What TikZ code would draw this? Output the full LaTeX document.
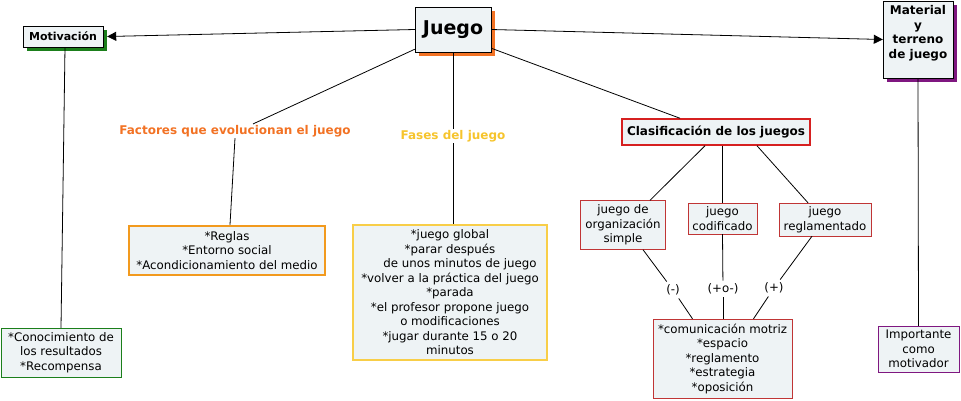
\documentclass[tikz,border=0pt]{standalone}
\usepackage{fontspec}
\setmainfont{DejaVu Sans}
\usetikzlibrary{shadows,arrows.meta}
\definecolor{fondocaja}{HTML}{EEF3F5}
\definecolor{verde}{HTML}{1B7F1B}
\definecolor{naranja}{HTML}{F27224}
\definecolor{naranjaclaro}{HTML}{F29A1E}
\definecolor{amarillo}{HTML}{F6C42C}
\definecolor{amarilloclaro}{HTML}{F8CE48}
\definecolor{morado}{HTML}{7F1780}
\definecolor{rojo}{HTML}{D62020}
\definecolor{rojooscuro}{HTML}{C03535}
\begin{document}
\begin{tikzpicture}[x=1pt, y=-1pt,
    every node/.style={font=\fontsize{11.8}{14.5}\selectfont, align=center, inner sep=1pt},
    caja/.style={draw, fill=fondocaja, inner sep=2pt},
    sombra/.style={drop shadow={shadow xshift=4pt, shadow yshift=-4pt, fill=#1, opacity=1}},
    titulo/.style={font=\bfseries\fontsize{12}{14.5}\selectfont},
    enlace/.style={black, line width=0.8pt},
    flecha/.style={black, line width=0.8pt, -{Triangle[length=9pt, width=9pt]}}
  ]
  \useasboundingbox (0,0) rectangle (961,400);

  % conceptos principales
  \node[caja, sombra=naranja, minimum width=76, minimum height=45,
        font=\bfseries\fontsize{19}{23}\selectfont] (juego) at (453,29.5) {Juego};
  \node[caja, sombra=verde, minimum width=80, minimum height=21,
        font=\bfseries\fontsize{11}{14.5}\selectfont] (motiv) at (63,36.5) {Motivación};
  \node[caja, sombra=morado, titulo, minimum width=70, minimum height=77, text depth=15pt] (material) at (918,39.5)
       {Material\\y\\terreno\\de juego};

  % ramas
  \node[titulo, text=naranja] (factores) at (235,131) {Factores que evolucionan el juego};
  \node[titulo, text=amarillo] (fases) at (453,136) {Fases del juego};
  \node[caja, draw=rojo, line width=1.5pt, titulo, minimum width=188, minimum height=26] (clasif) at (716,132)
       {Clasificación de los juegos};

  % cajas de contenido
  \node[caja, draw=naranjaclaro, line width=2.5pt, minimum width=196, minimum height=49] (reglas) at (227,250.5)
       {*Reglas\\*Entorno social\\*Acondicionamiento del medio};
  \node[caja, draw=amarilloclaro, line width=2pt, minimum width=194, minimum height=135] (fasesbox) at (450,292.5)
       {*juego global\\*parar después\\\hspace*{20pt}de unos minutos de juego\\*volver a la práctica del juego\\*parada\\*el profesor propone juego\\o modificaciones\\*jugar durante 15 o 20\\minutos};
  \node[caja, draw=verde, minimum width=120, minimum height=49] (conoc) at (61,352.5)
       {*Conocimiento de\\los resultados\\*Recompensa};
  \node[caja, draw=morado, minimum width=81, minimum height=46] (importante) at (918.5,349)
       {Importante\\como\\motivador};

  % tipos de juego
  \node[caja, draw=rojooscuro, minimum width=85, minimum height=49] (organiz) at (623,225)
       {juego de\\organización\\simple};
  \node[caja, draw=rojooscuro, minimum width=69, minimum height=31] (codif) at (722.5,218.5)
       {juego\\codificado};
  \node[caja, draw=rojooscuro, minimum width=92, minimum height=33] (reglam) at (825,219.5)
       {juego\\reglamentado};
  \node[caja, draw=rojooscuro, minimum width=139, minimum height=79] (comunic) at (722.5,358.5)
       {*comunicación motriz\\*espacio\\*reglamento\\*estrategia\\*oposición};

  % etiquetas de enlace
  \node[inner sep=3pt] (menos) at (673,290) {(-)};
  \node[inner sep=3pt] (masmenos) at (723,289) {(+o-)};
  \node[inner sep=3pt] (mas) at (774,288) {(+)};

  % conexiones
  \draw[flecha] (juego.west) -- ([xshift=4pt]motiv.east);
  \draw[flecha] (juego.east) -- (material.west);
  \draw[enlace] ([yshift=3pt]juego.south west) -- ([xshift=18pt]factores.north);
  \draw[enlace] (juego.south) -- (fases.north);
  \draw[enlace] ([yshift=4pt]juego.south east) -- ([xshift=-36pt]clasif.north);
  \draw[enlace] (factores.south) -- ([xshift=3pt]reglas.north);
  \draw[enlace] (fases.south) -- (fases.south |- fasesbox.north);
  \draw[enlace] ([xshift=2pt]motiv.south) -- (conoc.north);
  \draw[enlace] (material.south) -- (importante.north);
  \draw[enlace] ([xshift=-11pt]clasif.south) -- ([xshift=27pt]organiz.north);
  \draw[enlace] (clasif.south -| codif.north) -- (codif.north);
  \draw[enlace] ([xshift=41pt]clasif.south) -- ([xshift=-17pt]reglam.north);
  \draw[enlace] ([xshift=20pt]organiz.south) -- (menos);
  \draw[enlace] (menos) -- ([xshift=-30pt]comunic.north);
  \draw[enlace] (codif.south) -- (masmenos);
  \draw[enlace] (masmenos) -- (masmenos |- comunic.north);
  \draw[enlace] ([xshift=-13pt]reglam.south) -- (mas);
  \draw[enlace] (mas) -- ([xshift=31pt]comunic.north);
\end{tikzpicture}
\end{document}
